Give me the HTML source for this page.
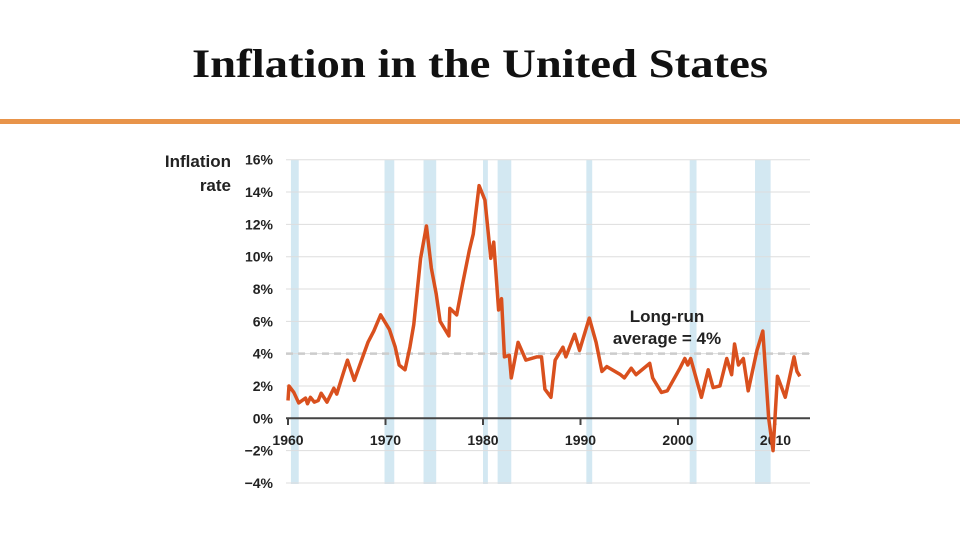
<!DOCTYPE html>
<html><head><meta charset="utf-8"><style>
body{margin:0;background:#fff;width:960px;height:540px;overflow:hidden}
</style></head><body>
<svg width="960" height="540" xmlns="http://www.w3.org/2000/svg">
<text x="480" y="77" text-anchor="middle" font-family="Liberation Serif, serif" font-weight="bold" font-size="40" textLength="576" lengthAdjust="spacingAndGlyphs" fill="#111">Inflation in the United States</text>
<rect x="0" y="119" width="960" height="5" fill="#e8944a"/>
<g id="bands"></g><g id="grid"></g><g id="ticks"></g><g id="series"></g>
<text x="231" y="167" text-anchor="end" font-family="Liberation Sans, sans-serif" font-weight="bold" font-size="17" fill="#222">Inflation</text>
<text x="231" y="191" text-anchor="end" font-family="Liberation Sans, sans-serif" font-weight="bold" font-size="17" fill="#222">rate</text>
<text x="667" y="322" text-anchor="middle" font-family="Liberation Sans, sans-serif" font-weight="bold" font-size="17" fill="#222">Long-run</text>
<text x="667" y="344" text-anchor="middle" font-family="Liberation Sans, sans-serif" font-weight="bold" font-size="17" fill="#222">average = 4%</text>
</svg>
<script>
const years=[1960.0,1960.1,1960.6,1961.1,1961.8,1962.0,1962.3,1962.7,1963.1,1963.4,1964.0,1964.7,1965.0,1965.7,1966.1,1966.8,1968.2,1968.8,1969.5,1970.4,1971.0,1971.4,1972.0,1972.5,1972.9,1973.6,1974.2,1974.7,1975.2,1975.6,1976.5,1976.6,1977.3,1977.9,1978.6,1979.0,1979.6,1980.2,1980.8,1981.1,1981.6,1981.9,1982.2,1982.7,1982.9,1983.6,1984.4,1985.5,1986.0,1986.35,1986.97,1987.4,1988.2,1988.5,1989.4,1989.9,1990.9,1991.6,1992.2,1992.7,1994.1,1994.5,1995.2,1995.7,1997.1,1997.4,1998.3,1998.9,2000.2,2000.7,2001.0,2001.3,2002.4,2003.1,2003.6,2004.3,2005.0,2005.5,2005.8,2006.2,2006.7,2007.2,2008.1,2008.7,2009.3,2009.75,2010.2,2011.0,2011.9,2012.2,2012.5];
const rates=[1.1,2.0,1.6,0.95,1.25,0.9,1.3,1.0,1.1,1.55,1.0,1.86,1.5,2.85,3.6,2.35,4.7,5.4,6.4,5.5,4.4,3.3,3.0,4.4,5.8,9.9,11.9,9.3,7.7,6.0,5.1,6.8,6.4,8.3,10.4,11.4,14.4,13.5,9.9,10.9,6.7,7.4,3.8,3.9,2.5,4.7,3.6,3.8,3.8,1.8,1.3,3.6,4.4,3.8,5.2,4.2,6.2,4.7,2.9,3.2,2.7,2.5,3.1,2.7,3.4,2.5,1.6,1.7,3.1,3.7,3.3,3.7,1.3,3.0,1.9,2.0,3.7,2.7,4.6,3.3,3.7,1.7,4.2,5.4,0.0,-2.0,2.6,1.3,3.8,2.9,2.6];
const yTicks=[16,14,12,10,8,6,4,2,0,-2,-4];
const yTickLabels=["16%","14%","12%","10%","8%","6%","4%","2%","0%","\u22122%","\u22124%"];
const xTicks=[1960,1970,1980,1990,2000,2010];
const recessionStarts=[1960.3,1969.9,1973.9,1980.0,1981.5,1990.6,2001.2,2007.9];
const recessionEnds=[1961.1,1970.9,1975.2,1980.5,1982.9,1991.2,2001.9,2009.5];
const longRunAverage=4;
const NS='http://www.w3.org/2000/svg';
const X=y=>288+(y-1960)*9.75;
const Y=v=>418.3-v*16.16;
function mk(tag,attrs,parent){const e=document.createElementNS(NS,tag);for(const k in attrs)e.setAttribute(k,attrs[k]);document.getElementById(parent).appendChild(e);return e;}
recessionStarts.forEach((s,i)=>{
 const r=mk('rect',{x:X(s),y:160,width:X(recessionEnds[i])-X(s),height:324,fill:'#d3e8f2'},'bands');
 
 
});
yTicks.forEach((v,i)=>{
 const l=mk('line',{x1:286,x2:810,y1:Y(v),y2:Y(v),stroke:v===0?'#444':'#ddd','stroke-width':v===0?2:1},'grid');
 
 
 const t=mk('text',{x:273,y:Y(v)+5,'text-anchor':'end','font-family':'Liberation Sans, sans-serif','font-weight':'bold','font-size':14,fill:'#222'},'grid');
 t.textContent=yTickLabels[i];
 
 
});
const avg=mk('line',{x1:286,x2:810,y1:Y(longRunAverage),y2:Y(longRunAverage),stroke:'#ccc','stroke-width':2.5,'stroke-dasharray':'7,5'},'grid');


xTicks.forEach(y=>{
 const l=mk('line',{x1:X(y),x2:X(y),y1:418,y2:425,stroke:'#444','stroke-width':2},'ticks');
 
 
 const t=mk('text',{x:X(y),y:445,'text-anchor':'middle','font-family':'Liberation Sans, sans-serif','font-weight':'bold','font-size':14,fill:'#222'},'ticks');
 t.textContent=y;
 
 
});
const p=mk('polyline',{points:years.map((y,i)=>X(y)+','+Y(rates[i])).join(' '),fill:'none',stroke:'#d9501e','stroke-width':3.5,'stroke-linejoin':'round'},'series');


</script>
</body></html>
